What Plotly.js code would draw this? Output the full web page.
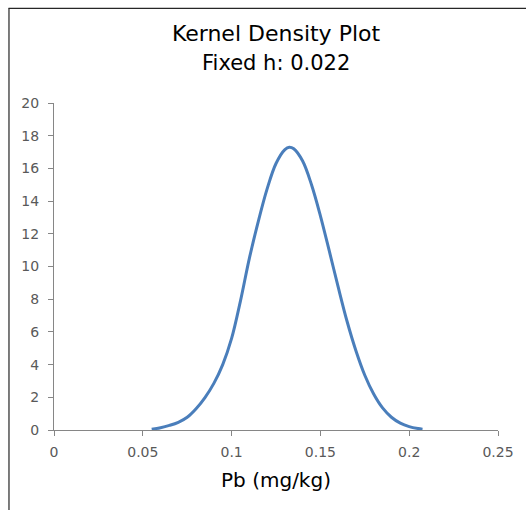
<!DOCTYPE html>
<html>
<head>
<meta charset="utf-8">
<script src="https://cdn.plot.ly/plotly-3.0.1.min.js"></script>
<style>html,body{margin:0;padding:0;background:#fff;}#chart{width:526px;height:510px;}</style>
</head>
<body>
<div id="chart"></div>
<script>
// Kernel density estimate of Pb (mg/kg), bandwidth h = 0.022
const pbValues = [0.055, 0.060, 0.065, 0.070, 0.075, 0.080, 0.085, 0.090, 0.095, 0.100,
                  0.105, 0.110, 0.115, 0.120, 0.125, 0.130, 0.1325, 0.135, 0.140, 0.145,
                  0.150, 0.155, 0.160, 0.165, 0.170, 0.175, 0.180, 0.185, 0.190, 0.195,
                  0.200, 0.205, 0.2075];
const densityValues = [0.05, 0.14, 0.28, 0.47, 0.78, 1.3, 1.98, 2.85, 4.0, 5.6,
                       7.9, 10.5, 12.75, 14.75, 16.3, 17.15, 17.3, 17.2, 16.45, 15.0,
                       13.1, 10.95, 8.75, 6.65, 4.85, 3.35, 2.2, 1.35, 0.78, 0.42,
                       0.21, 0.09, 0.05];
const xTickVals = [0, 0.05, 0.1, 0.15, 0.2, 0.25];
const xTickText = ["0", "0.05", "0.1", "0.15", "0.2", "0.25"];
const yTickVals = [0, 2, 4, 6, 8, 10, 12, 14, 16, 18, 20];

const FONT = "'DejaVu Sans', sans-serif";

const trace = {
  x: pbValues, y: densityValues, type: 'scatter', mode: 'lines',
  line: {color: '#4A7EBB', width: 3, shape: 'spline', smoothing: 1},
  hoverinfo: 'x+y', showlegend: false
};

const layout = {
  width: 526, height: 510,
  margin: {l: 54, r: 28, t: 102.5, b: 79.5, pad: 0},
  paper_bgcolor: '#ffffff', plot_bgcolor: '#ffffff',
  font: {family: FONT, color: '#595959', size: 14},
  title: {
    text: "Kernel Density Plot",
    font: {family: FONT, size: 22, color: '#000000'},
    x: 0.5, xref: 'paper', xanchor: 'center',
    y: 1 - 33/510, yref: 'container', yanchor: 'middle'
  },
  annotations: [
    {text: "Fixed h: 0.022", xref: 'paper', yref: 'paper', x: 0.5, xanchor: 'center',
     y: (430.5 - 62) / 328, yanchor: 'middle', showarrow: false,
     font: {family: FONT, size: 21, color: '#000000'}}
  ],
  xaxis: {
    range: [0, 0.25], tickvals: xTickVals, ticktext: xTickText,
    showgrid: false, zeroline: false,
    showline: true, linecolor: '#868686', linewidth: 1,
    ticks: 'outside', ticklen: 5, tickcolor: '#868686', tickwidth: 1,
    ticklabelstandoff: 4,
    tickfont: {family: FONT, size: 14, color: '#595959'},
    title: {text: 'Pb (mg/kg)', font: {family: FONT, size: 20, color: '#000000'}, standoff: 14},
    fixedrange: true
  },
  yaxis: {
    range: [0, 20], tickvals: yTickVals,
    showgrid: false, zeroline: false,
    showline: true, linecolor: '#868686', linewidth: 1,
    ticks: 'outside', ticklen: 5, tickcolor: '#868686', tickwidth: 1,
    ticklabelstandoff: 6,
    tickfont: {family: FONT, size: 14, color: '#595959'},
    fixedrange: true
  },
  shapes: [
    {type: 'line', xref: 'paper', yref: 'paper', x0: -0.1014, x1: -0.1014, y0: -0.3, y1: 1.2896,
     line: {color: '#262626', width: 1.2}},
    {type: 'line', xref: 'paper', yref: 'paper', x0: -0.1025, x1: 1.1, y0: 1.2896, y1: 1.2896,
     line: {color: '#262626', width: 1.2}}
  ]
};

Plotly.newPlot('chart', [trace], layout, {displayModeBar: false, staticPlot: true});
</script>
</body>
</html>
